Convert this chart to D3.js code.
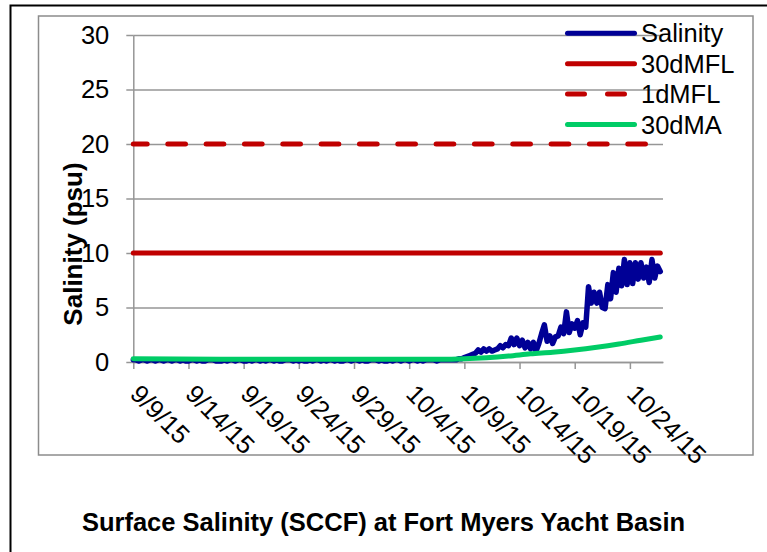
<!DOCTYPE html>
<html><head><meta charset="utf-8">
<script src="https://cdn.jsdelivr.net/npm/d3@7"></script>
<style>
body{margin:0;background:#fff}
svg{display:block}
text{font-family:"Liberation Sans",Arial,sans-serif;fill:#000}
</style>
</head><body>
<svg id="chart" width="767" height="552"></svg>
<script>
// ---------------- data ----------------
const chartTitle = "Surface Salinity (SCCF) at Fort Myers Yacht Basin";
const yAxisTitle = "Salinity (psu)";
const seriesNames = ["Salinity", "30dMFL", "1dMFL", "30dMA"];
const xTickLabels = ["9/9/15","9/14/15","9/19/15","9/24/15","9/29/15","10/4/15","10/9/15","10/14/15","10/19/15","10/24/15"];
const yTicks = [0,5,10,15,20,25,30];
const xDomain = ["9/9/15","10/27/15"];
const salinityStart = "2015-09-09T00:00";
const salinityStepHours = 6;
// salinity, one row per day (00, 06, 12, 18 h)
const salinity = [
  0.2,0.2,0.1,0.2, 0.2,0.1,0.2,0.2, 0.1,0.2,0.2,0.1, 0.2,0.2,0.1,0.2,
  0.2,0.1,0.2,0.1, 0.1,0.2,0.2,0.1, 0.2,0.1,0.1,0.2, 0.2,0.2,0.1,0.1,
  0.1,0.2,0.1,0.2, 0.2,0.1,0.2,0.2, 0.1,0.1,0.2,0.1, 0.2,0.2,0.1,0.2,
  0.1,0.2,0.2,0.1, 0.2,0.1,0.1,0.2, 0.2,0.2,0.1,0.2, 0.1,0.2,0.1,0.1,
  0.2,0.1,0.2,0.2, 0.1,0.2,0.1,0.2, 0.2,0.1,0.2,0.1, 0.1,0.2,0.2,0.1,
  0.2,0.2,0.1,0.2, 0.1,0.1,0.2,0.2, 0.2,0.1,0.2,0.1, 0.1,0.2,0.1,0.2,
  0.2,0.1,0.2,0.2, 0.1,0.2,0.2,0.1, 0.2,0.1,0.2,0.2, 0.2,0.2,0.1,0.2,
  0.2,0.2,0.2,0.2,
  0.2,0.2,0.3,0.3,   // 10/8
  0.4,0.5,0.6,0.7,   // 10/9
  0.8,1.1,0.9,1.2,   // 10/10
  1.0,1.2,1.0,1.1,   // 10/11
  1.2,1.5,1.3,1.6,   // 10/12
  1.5,2.2,1.6,2.2,   // 10/13
  1.5,2.0,1.3,1.8,   // 10/14
  1.2,1.8,1.0,1.7,   // 10/15
  2.6,3.4,1.9,2.4,   // 10/16
  1.7,2.3,2.4,3.2,   // 10/17
  2.6,4.6,2.7,3.5,   // 10/18
  3.1,3.8,2.5,3.6,   // 10/19
  3.2,6.9,5.4,6.4,   // 10/20
  5.4,6.4,5.0,4.9,   // 10/21
  7.1,5.8,8.2,6.4,   // 10/22
  8.6,7.0,9.4,7.1,   // 10/23
  9.1,7.2,9.1,7.6,   // 10/24
  9.1,7.7,8.7,7.3,   // 10/25
  9.4,7.7,8.8,8.3    // 10/26
];
const limit30d = 10;   // 30dMFL
const limit1d = 20;    // 1dMFL
const maDates = ["9/9/15","9/19/15","9/29/15","10/7/15","10/9/15","10/11/15","10/13/15","10/15/15","10/17/15","10/19/15","10/21/15","10/23/15","10/25/15","10/26/15 18"];
const maValues = [0.3,0.25,0.25,0.25,0.3,0.4,0.55,0.75,0.9,1.1,1.35,1.65,2.0,2.3];

// ---------------- drawing ----------------
(function(){
const colors = {sal:"#000096", red:"#C00000", green:"#00CC66", grid:"#969696"};
const svg = d3.select("#chart");
const W = 767, H = 552;
const pLeft = 133.3, pRight = 663, pTop = 35, pBottom = 362;

const parseD = d3.timeParse("%m/%d/%y");
const parseDH = d3.timeParse("%m/%d/%y %H");
const pd = s => parseD(s) || parseDH(s);
const x = d3.scaleTime().domain(xDomain.map(pd)).range([pLeft, pRight]);
const y = d3.scaleLinear().domain([0,30]).range([pBottom, pTop]);

svg.append("rect").attr("width",W).attr("height",H).attr("fill","#fff");
svg.append("rect").attr("x",10.5).attr("y",5.5).attr("width",900).attr("height",900)
  .attr("fill","none").attr("stroke","#000").attr("stroke-width",2);
svg.append("rect").attr("x",38.5).attr("y",16).attr("width",714.5).attr("height",439)
  .attr("fill","none").attr("stroke","#8c8c8c").attr("stroke-width",1.5);

// gridlines
svg.append("g").attr("transform",`translate(${pLeft},0)`)
  .call(d3.axisLeft(y).tickValues(yTicks).tickSize(-(pRight-pLeft)).tickFormat(""))
  .call(g=>g.select(".domain").remove())
  .call(g=>g.selectAll("line").attr("stroke",colors.grid).attr("stroke-width",1.3));

// y axis
svg.append("g").attr("transform",`translate(${pLeft},0)`)
  .call(d3.axisLeft(y).tickValues(yTicks).tickSize(7).tickSizeOuter(0).tickPadding(17))
  .call(g=>g.select(".domain").attr("stroke",colors.grid).attr("stroke-width",1.5))
  .call(g=>g.selectAll("line").attr("stroke",colors.grid).attr("stroke-width",1.5))
  .call(g=>g.selectAll("text").attr("font-size","25.5px").attr("font-family","Liberation Sans, Arial, sans-serif").attr("fill","#000"));

// x axis
const xTickDates = xTickLabels.map(pd);
svg.append("g").attr("transform",`translate(0,${pBottom})`)
  .call(d3.axisBottom(x).tickValues(xTickDates).tickSize(7).tickSizeOuter(0)
        .tickFormat((d,i)=>xTickLabels[i]))
  .call(g=>g.select(".domain").attr("stroke",colors.grid).attr("stroke-width",1.5))
  .call(g=>g.selectAll("line").attr("stroke",colors.grid).attr("stroke-width",1.5))
  .call(g=>g.selectAll("text")
      .attr("font-size","25.5px").attr("font-family","Liberation Sans, Arial, sans-serif").attr("fill","#000")
      .attr("text-anchor","start").attr("x",0).attr("y",0).attr("dy",0)
      .attr("transform","translate(-5,33.5) rotate(45)"));

// series
const t0 = d3.isoParse(salinityStart);
const salData = salinity.map((v,i)=>({d:d3.timeHour.offset(t0, i*salinityStepHours), v}));
const tEnd = salData[salData.length-1].d;

svg.append("path").datum(salData)
  .attr("fill","none").attr("stroke",colors.sal).attr("stroke-width",5.5)
  .attr("stroke-linejoin","round").attr("stroke-linecap","round")
  .attr("d", d3.line().x(d=>x(d.d)).y(d=>y(d.v)));

const lim = v => [{d:t0,v},{d:tEnd,v}];
const ln = d3.line().x(d=>x(d.d)).y(d=>y(d.v));
svg.append("path").datum(lim(limit30d)).attr("fill","none").attr("stroke",colors.red)
  .attr("stroke-width",5).attr("stroke-linecap","round").attr("d",ln);
svg.append("path").datum(lim(limit1d)).attr("fill","none").attr("stroke",colors.red)
  .attr("stroke-width",5).attr("stroke-linecap","round")
  .attr("stroke-dasharray","17.7,20.63").attr("stroke-dashoffset",3.83).attr("d",ln);

const maData = maDates.map((s,i)=>({d:pd(s), v:maValues[i]}));
svg.append("path").datum(maData).attr("fill","none").attr("stroke",colors.green)
  .attr("stroke-width",5).attr("stroke-linecap","round")
  .attr("d", d3.line().curve(d3.curveMonotoneX).x(d=>x(d.d)).y(d=>y(d.v)));

// legend
const legendStyles = [
  {c:colors.sal, dash:null},
  {c:colors.red, dash:null},
  {c:colors.red, dash:"17,23"},
  {c:colors.green, dash:null}
];
const lg = svg.append("g");
seriesNames.forEach((n,i)=>{
  const yy = 33.3 + i*30.4;
  const l = lg.append("line").attr("x1",567.5).attr("x2",634.5).attr("y1",yy).attr("y2",yy)
    .attr("stroke",legendStyles[i].c).attr("stroke-width",5).attr("stroke-linecap","round");
  if (legendStyles[i].dash) l.attr("stroke-dasharray",legendStyles[i].dash);
  lg.append("text").attr("x",641).attr("y",yy).attr("dy","0.36em")
    .attr("font-size","25.5px").text(n);
});

// titles
svg.append("text").attr("transform","translate(82,244) rotate(-90)")
  .attr("text-anchor","middle").attr("font-size","26px").attr("font-weight","bold").text(yAxisTitle);
svg.append("text").attr("x",383.5).attr("y",531).attr("text-anchor","middle")
  .attr("font-size","25.5px").attr("font-weight","bold").text(chartTitle);
})();
</script>
</body></html>
